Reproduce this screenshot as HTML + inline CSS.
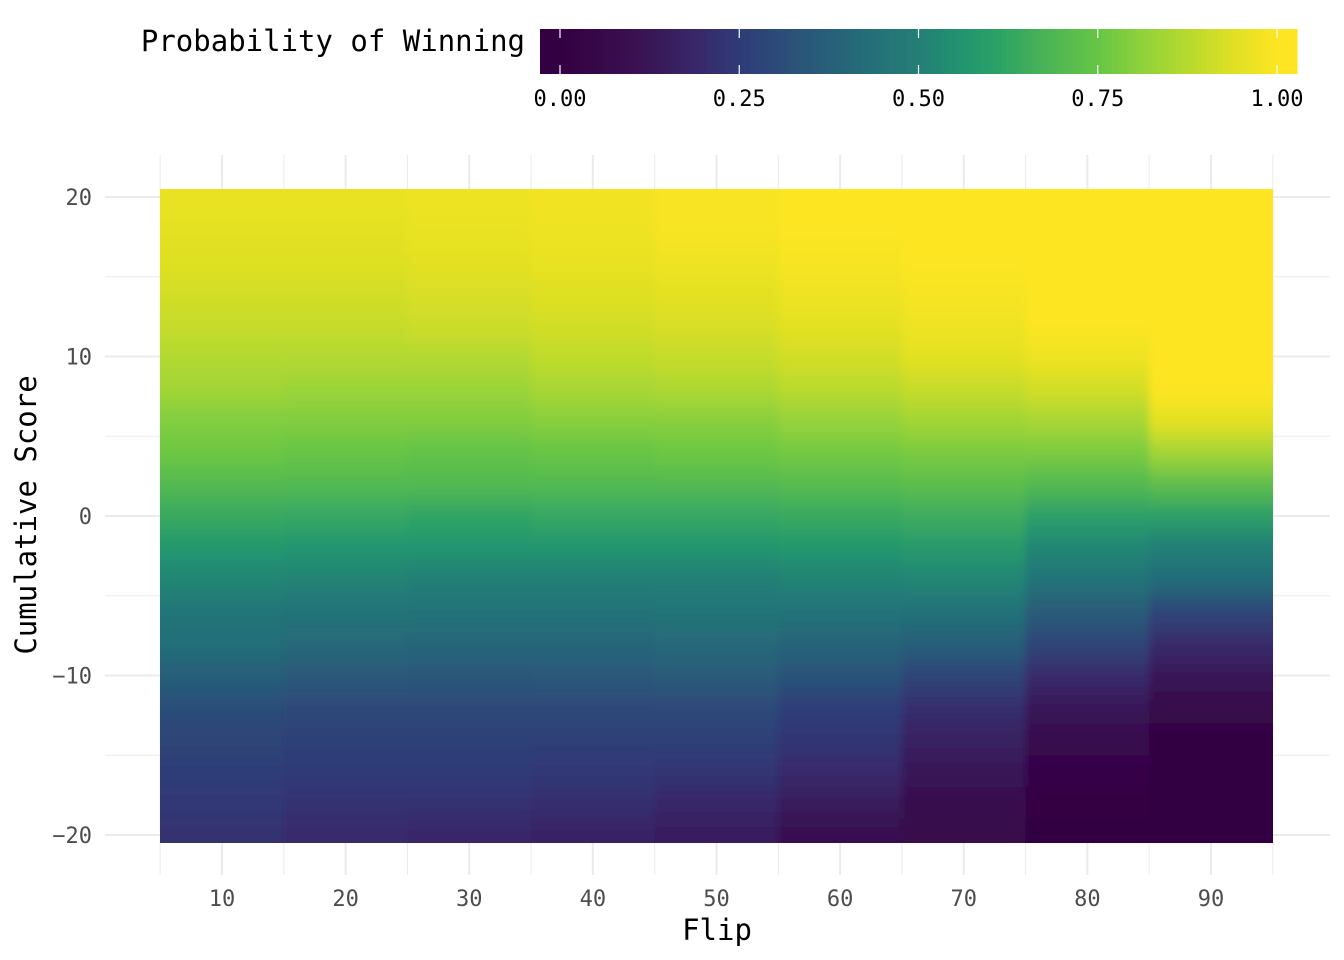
<!DOCTYPE html>
<html><head><meta charset="utf-8"><style>
html,body{margin:0;padding:0;background:#fff;}
svg{display:block;font-family:"DejaVu Sans Mono","Liberation Mono",monospace;}
</style></head><body>
<svg id="chart" width="1344" height="960" xmlns="http://www.w3.org/2000/svg">
<defs>
<filter id="soft" x="-5%" y="-5%" width="110%" height="110%"><feGaussianBlur stdDeviation="4 12"/></filter>
<clipPath id="panelClip"><rect x="160" y="189" width="1113" height="654"/></clipPath>
</defs>
</svg>
<script>
const xGroupStarts = [5,15,25,35,45,55,65,75,85];
const xGroupEnds = [15,25,35,45,55,65,75,85,95];
const yRows = [20,18,16,14,12,10,8,6,4,2,0,-2,-4,-6,-8,-10,-12,-14,-16,-18,-20];
const g1 = [0.96,0.95,0.94,0.92,0.9,0.87,0.84,0.79,0.76,0.7,0.64,0.57,0.52,0.46,0.43,0.37,0.31,0.28,0.26,0.24,0.22];
const g2 = [0.96,0.95,0.94,0.92,0.9,0.87,0.83,0.79,0.75,0.7,0.63,0.56,0.51,0.45,0.41,0.35,0.3,0.27,0.25,0.22,0.2];
const g3 = [0.97,0.96,0.95,0.93,0.91,0.87,0.83,0.79,0.74,0.7,0.62,0.56,0.5,0.45,0.4,0.34,0.3,0.27,0.25,0.22,0.19];
const g4 = [0.98,0.97,0.96,0.94,0.92,0.89,0.85,0.8,0.75,0.7,0.63,0.56,0.5,0.45,0.4,0.35,0.3,0.27,0.24,0.21,0.17];
const g5 = [0.99,0.99,0.97,0.95,0.93,0.9,0.86,0.8,0.76,0.7,0.63,0.56,0.5,0.46,0.41,0.36,0.3,0.27,0.23,0.19,0.15];
const g6 = [1.0,1.0,0.99,0.97,0.95,0.92,0.88,0.82,0.77,0.71,0.64,0.57,0.51,0.45,0.39,0.33,0.26,0.23,0.2,0.14,0.09];
const g7 = [1.0,1.0,1.0,0.99,0.97,0.95,0.9,0.84,0.78,0.72,0.65,0.58,0.52,0.44,0.37,0.28,0.21,0.16,0.13,0.08,0.05];
const g8 = [1.0,1.0,1.0,1.0,1.0,0.97,0.92,0.85,0.78,0.7,0.6,0.52,0.45,0.36,0.28,0.2,0.13,0.08,0.03,0.01,0.0];
const g9 = [1.0,1.0,1.0,1.0,1.0,1.0,1.0,0.95,0.84,0.72,0.6,0.5,0.42,0.28,0.2,0.12,0.06,0.0,0.0,0.0,0.0];
const groups = [g1,g2,g3,g4,g5,g6,g7,g8,g9];
const xTicks = [10,20,30,40,50,60,70,80,90];
const yTicks = [20,10,0,-10,-20];
const cbTicks = [0,0.25,0.5,0.75,1];
const cbLabels = ["0.00","0.25","0.50","0.75","1.00"];

const NS="http://www.w3.org/2000/svg";
const svg=document.getElementById('chart');
const X=v=>222+(v-10)*(1211-222)/80;
const Y=v=>197+(20-v)*(835-197)/40;
const stopPos=[0,0.1,0.2,0.25,0.33,0.42,0.5,0.56,0.62,0.68,0.75,0.82,0.88,0.94,1];
const stopCol=["#330042","#3a1050","#372a6c","#2f3b78","#2b5379","#246c79","#247e76","#21946f","#2fa465","#4cb456","#66c545","#95d33a","#bada2e","#dfe024","#fde523"];
function hex(h){return [1,3,5].map(i=>parseInt(h.substr(i,2),16));}
function pal(t){t=Math.max(0,Math.min(1,t));let i=0;while(i<stopPos.length-2&&t>stopPos[i+1])i++;
  const f=(t-stopPos[i])/(stopPos[i+1]-stopPos[i]);const a=hex(stopCol[i]),b=hex(stopCol[i+1]);
  return 'rgb('+a.map((c,k)=>Math.round(c+(b[k]-c)*f)).join(',')+')';}
function mk(tag,attrs,parent){const e=document.createElementNS(NS,tag);for(const k in attrs)e.setAttribute(k,attrs[k]);(parent||svg).appendChild(e);return e;}

// grid
const grid=mk('g',{});


for(let v=-20;v<=20;v+=5){mk('line',{x1:105,x2:1330,y1:Y(v),y2:Y(v),stroke:'#ebebeb','stroke-width':v%10===0?2:1},grid);}
for(let v=5;v<=95;v+=5){mk('line',{x1:X(v),x2:X(v),y1:155,y2:875,stroke:'#ebebeb','stroke-width':v%10===0?2:1},grid);}

// heatmap
const clipG=mk('g',{'clip-path':'url(#panelClip)'});
const hm=mk('g',{filter:'url(#soft)'},clipG);


groups.forEach((arr,gi)=>{arr.forEach((val,ri)=>{
  const yc=yRows[ri];
  let top=yc+1,bot=yc-1;
  if(ri===0)top=yc+4;
  if(ri===arr.length-1)bot=yc-4;
  let x0=X(xGroupStarts[gi]),x1=X(xGroupEnds[gi]);
  if(gi===0)x0-=40;
  if(gi===groups.length-1)x1+=40;
  const r=mk('rect',{x:x0,y:Y(top),width:x1-x0+0.6,height:Y(bot)-Y(top)+0.6,fill:pal(val)},hm);
  
  
});});

// axis labels
xTicks.forEach(v=>{const t=mk('text',{x:X(v),y:906,'text-anchor':'middle','font-size':22,fill:'#4d4d4d'});t.textContent=v;
  });
yTicks.forEach(v=>{const t=mk('text',{x:92,y:Y(v)+8,'text-anchor':'end','font-size':22,fill:'#4d4d4d'});t.textContent=(v<0?'\u2212'+(-v):v);
  });
let t=mk('text',{x:717,y:940,'text-anchor':'middle','font-size':29,fill:'#000'});t.textContent='Flip';

t=mk('text',{x:0,y:0,'text-anchor':'middle','font-size':29,fill:'#000',transform:'translate(36,515) rotate(-90)'});t.textContent='Cumulative Score';


// colorbar
const cb=mk('g',{});


const CB=v=>560+v*(1277-560);
for(let i=0;i<=150;i++){const x0=540+i*(1297-540)/151;const w=(1297-540)/151;mk('rect',{x:x0,y:29,width:w+0.6,height:45,fill:pal((x0+w/2-560)/(1277-560))},cb);}
cbTicks.forEach((v,i)=>{mk('line',{x1:CB(v),x2:CB(v),y1:29,y2:38,stroke:'#fff','stroke-width':1.2},cb);mk('line',{x1:CB(v),x2:CB(v),y1:65,y2:74,stroke:'#fff','stroke-width':1.2},cb);
  const l=mk('text',{x:CB(v),y:106,'text-anchor':'middle','font-size':22,fill:'#000'},cb);l.textContent=cbLabels[i];
  });
t=mk('text',{x:525,y:51,'text-anchor':'end','font-size':29,fill:'#000'},cb);t.textContent='Probability of Winning';

</script>
</body></html>
